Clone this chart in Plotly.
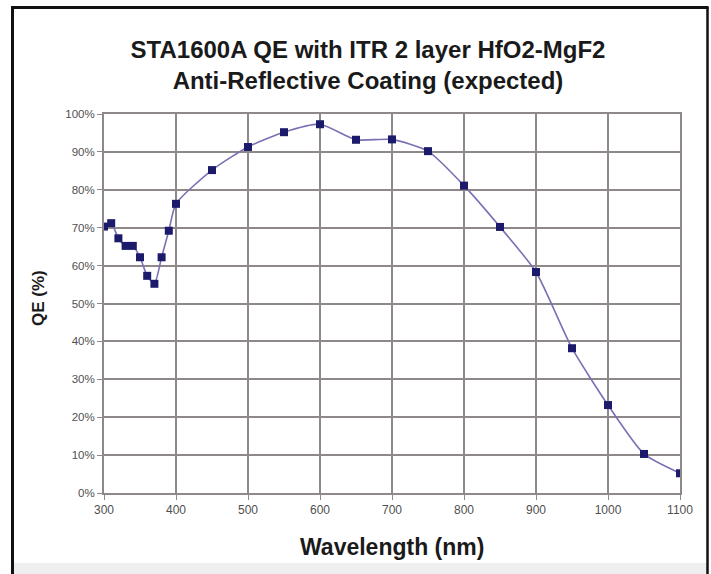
import plotly.graph_objects as go

wavelength_nm = [300, 310, 320, 330, 340, 350, 360, 370, 380, 390, 400,
                 450, 500, 550, 600, 650, 700, 750, 800, 850, 900, 950,
                 1000, 1050, 1100]
qe_percent = [70.3, 71.2, 67.2, 65.2, 65.2, 62.2, 57.3, 55.2, 62.2, 69.2, 76.3,
              85.2, 91.3, 95.2, 97.3, 93.2, 93.3, 90.2, 81.1, 70.2, 58.3, 38.2,
              23.2, 10.3, 5.2]

x_ticks = [300, 400, 500, 600, 700, 800, 900, 1000, 1100]
y_ticks = [0, 10, 20, 30, 40, 50, 60, 70, 80, 90, 100]

title_text = "STA1600A QE with ITR 2 layer HfO2-MgF2<br>Anti-Reflective Coating (expected)"

W, H = 711, 574
L, R, T, B = 104, 680, 114, 493
FONT = "Liberation Sans, Arial"


def px(xp):
    return (xp - L) / (R - L)


def py(yp):
    return (B - yp) / (B - T)


fig = go.Figure()
fig.add_trace(go.Scatter(
    x=wavelength_nm, y=qe_percent, mode="lines+markers",
    line=dict(color="#7a70b4", width=1.6, shape="spline", smoothing=0.6),
    marker=dict(symbol="square", size=8, color="#1c1a6a",
                line=dict(width=0)),
    showlegend=False, hoverinfo="skip",
))

gridc = "#8f8888"
fig.update_xaxes(
    range=[300, 1100], tickvals=x_ticks, ticktext=[str(v) for v in x_ticks],
    showgrid=True, gridcolor=gridc, gridwidth=2,
    showline=True, linecolor=gridc, linewidth=2, mirror=True,
    ticks="outside", ticklen=5, tickcolor=gridc, tickwidth=1,
    tickfont=dict(family=FONT, size=12, color="#505050"),
    zeroline=False,
)
fig.update_yaxes(
    range=[0, 100], tickvals=y_ticks, ticktext=[f"{v}%" for v in y_ticks],
    showgrid=True, gridcolor=gridc, gridwidth=2,
    showline=True, linecolor=gridc, linewidth=2, mirror=True,
    ticks="outside", ticklen=5, tickcolor=gridc, tickwidth=1,
    tickfont=dict(family=FONT, size=11.5, color="#505050"),
    zeroline=False,
)

shapes = [
    dict(type="rect", xref="paper", yref="paper", x0=px(12), x1=px(707),
         y0=py(574), y1=py(563), fillcolor="#efefef", line=dict(width=0),
         layer="below"),
    dict(type="line", xref="paper", yref="paper", x0=px(12.5), x1=px(12.5),
         y0=py(7), y1=py(580), line=dict(color="#111111", width=3)),
    dict(type="line", xref="paper", yref="paper", x0=px(11), x1=px(708.5),
         y0=py(7.5), y1=py(7.5), line=dict(color="#111111", width=3)),
    dict(type="line", xref="paper", yref="paper", x0=px(707.5), x1=px(707.5),
         y0=py(7), y1=py(580), line=dict(color="#111111", width=2.5)),
]

annotations = [
    dict(text="<b>Wavelength (nm)</b>", xref="paper", yref="paper",
         x=px(392), y=py(547), showarrow=False, xanchor="center", yanchor="middle",
         font=dict(family=FONT, size=23, color="#1a1a1a")),
    dict(text="<b>QE (%)</b>", xref="paper", yref="paper",
         x=px(38), y=py(298), showarrow=False, xanchor="center", yanchor="middle",
         textangle=-90,
         font=dict(family=FONT, size=17, color="#1a1a1a")),
]

fig.update_layout(
    width=W, height=H,
    margin=dict(l=L, r=W - R, t=T, b=H - B),
    paper_bgcolor="white", plot_bgcolor="white",
    title=dict(text="<b>" + title_text + "</b>", x=368 / W, xanchor="center",
               y=1 - 58 / H, yanchor="middle",
               font=dict(family=FONT, size=24, color="#1a1a1a")),
    shapes=shapes, annotations=annotations,
)

fig.write_html("out.html")
